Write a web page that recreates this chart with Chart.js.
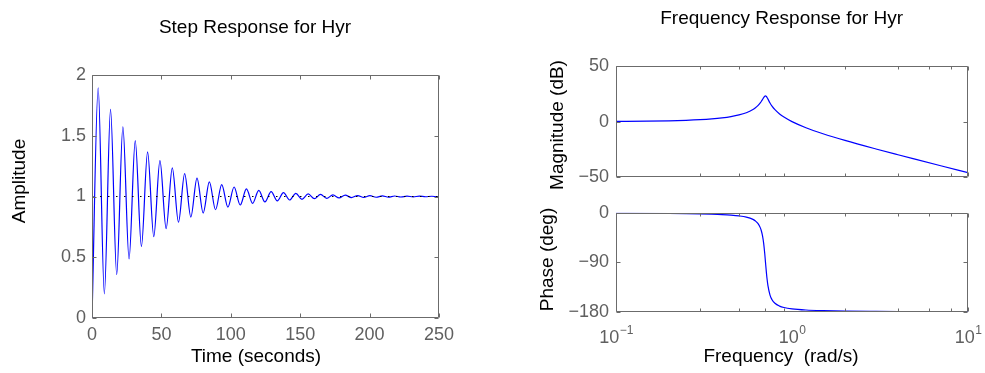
<!DOCTYPE html>
<html>
<head>
<meta charset="utf-8">
<title>Hyr step and frequency response</title>
<script src="https://cdn.jsdelivr.net/npm/chart.js"></script>
<style>
  html, body { margin: 0; padding: 0; background: #fff; }
  body { width: 985px; height: 373px; position: relative; overflow: hidden; }
  canvas { position: absolute; }
  #step { left: 0; top: 0; }
  #mag { left: 510px; top: 0; }
  #phase { left: 510px; top: 195px; }
</style>
</head>
<body>
<canvas id="step" width="510" height="373"></canvas>
<canvas id="mag" width="475" height="195"></canvas>
<canvas id="phase" width="475" height="178"></canvas>
<script>
// step response: start, then every extremum (half period ~4.45 s)
const stepTime = [0, 4.45, 8.9, 13.35, 17.8, 22.25, 26.7, 31.15, 35.6, 40.05, 44.5,
  48.95, 53.4, 57.85, 62.3, 66.75, 71.2, 75.65, 80.1, 84.55, 89,
  93.45, 97.9, 102.35, 106.8, 111.25, 115.7, 120.15, 124.6, 129.05, 133.5,
  137.95, 142.4, 146.85, 151.3, 155.75, 160.2, 164.65, 169.1, 173.55, 178,
  182.45, 186.9, 191.35, 195.8, 200.25, 204.7, 209.15, 213.6, 218.05, 222.5,
  226.95, 231.4, 235.85, 240.3, 244.75, 249.2, 250];
const stepAmp = [0, 1.895, 0.199, 1.717, 0.358, 1.574, 0.486, 1.460, 0.588, 1.368, 0.670,
  1.295, 0.736, 1.236, 0.788, 1.189, 0.831, 1.152, 0.864, 1.121, 0.891,
  1.097, 0.913, 1.078, 0.930, 1.062, 0.944, 1.050, 0.955, 1.040, 0.964,
  1.032, 0.971, 1.026, 0.977, 1.021, 0.982, 1.017, 0.985, 1.013, 0.988,
  1.011, 0.991, 1.008, 0.992, 1.007, 0.994, 1.005, 0.995, 1.004, 0.996,
  1.003, 0.997, 1.003, 0.998, 1.002, 0.998, 1.000];
const steadyState = 1;
const timeTicks = [0, 50, 100, 150, 200, 250];
const ampTicks = [0, 0.5, 1, 1.5, 2];

// bode plot
const freqW = [0.1, 0.15, 0.2, 0.25, 0.3, 0.35, 0.4, 0.45, 0.5, 0.55,
  0.6, 0.62, 0.64, 0.66, 0.67, 0.68, 0.69, 0.70, 0.707, 0.715,
  0.72, 0.73, 0.75, 0.77, 0.8, 0.85, 0.9, 1.0, 1.2, 1.5,
  2, 3, 4, 5, 7, 10];
const magDb = [0.18, 0.40, 0.72, 1.16, 1.72, 2.44, 3.34, 4.49, 5.98, 7.99,
  10.87, 12.42, 14.35, 16.81, 18.28, 19.92, 21.58, 22.84, 23.1, 22.58,
  21.91, 20.2, 16.75, 13.94, 10.72, 6.88, 4.06, -0.04, -5.50, -10.88,
  -16.9, -24.61, -29.83, -33.8, -39.74, -45.98];
const phaseDeg = [-0.58, -0.89, -1.23, -1.62, -2.07, -2.63, -3.33, -4.28, -5.65, -7.84,
  -11.98, -14.9, -19.3, -26.9, -33.0, -41.8, -55.0, -73.9, -90, -107.6,
  -117.3, -132.3, -149.3, -157.7, -164.2, -169.3, -171.8, -174.3, -176.4, -177.6,
  -178.4, -179.0, -179.3, -179.4, -179.6, -179.7];
const freqTicks = [0.1, 0.2, 0.3, 0.4, 0.5, 0.6, 0.7, 0.8, 0.9, 1, 2, 3, 4, 5, 6, 7, 8, 9, 10];
const freqDecades = [0.1, 1, 10];
const decadeExps = ['\u22121', '0', '1'];
const magTicks = [-50, 0, 50];
const phaseTicks = [-180, -90, 0];

const FONT = '"Liberation Sans", Arial, Helvetica, sans-serif';
const AXIS_GREY = '#6b6b6b';
const LABEL_GREY = '#5f5f5f';
const CURVE_BLUE = '#0000ff';

const plain = v => String(v).replace('-', '\u2212');

// MATLAB style box with inward ticks on all four sides
const boxPlugin = {
  id: 'matlabBox',
  afterDatasetsDraw(chart, args, opts) {
    const { ctx, chartArea: a, scales } = chart;
    ctx.save();
    ctx.strokeStyle = AXIS_GREY;
    ctx.lineWidth = 1;
    ctx.beginPath();
    const l = Math.round(a.left) + 0.5, r = Math.round(a.right) - 0.5;
    const t = Math.round(a.top) + 0.5, b = Math.round(a.bottom) - 0.5;
    ctx.rect(l, t, r - l, b - t);
    scales.x.ticks.forEach(tk => {
      const px = Math.round(scales.x.getPixelForValue(tk.value)) + 0.5;
      const major = !opts.logX || Math.abs(Math.log10(tk.value) - Math.round(Math.log10(tk.value))) < 1e-6;
      const len = major ? 4 : 3;
      ctx.moveTo(px, b); ctx.lineTo(px, b - len);
      ctx.moveTo(px, t); ctx.lineTo(px, t + len);
    });
    scales.y.ticks.forEach(tk => {
      const py = Math.round(scales.y.getPixelForValue(tk.value)) + 0.5;
      ctx.moveTo(l, py); ctx.lineTo(l + 4, py);
      ctx.moveTo(r, py); ctx.lineTo(r - 4, py);
    });
    ctx.stroke();
    ctx.restore();
  }
};

// free text: titles, axis labels and 10^n tick labels
const textPlugin = {
  id: 'freeText',
  afterDraw(chart, args, opts) {
    const ctx = chart.ctx;
    ctx.save();
    (opts.items || []).forEach(it => {
      ctx.save();
      ctx.font = (it.size || 19) + 'px ' + FONT;
      ctx.fillStyle = it.color || '#000';
      ctx.textAlign = 'center';
      ctx.textBaseline = it.baseline || 'alphabetic';
      ctx.translate(it.x, it.y);
      if (it.rotate) ctx.rotate(-Math.PI / 2);
      ctx.fillText(it.text, 0, 0);
      ctx.restore();
    });
    if (opts.decades) {
      const xs = chart.scales.x;
      opts.decades.forEach((v, i) => {
        const px = xs.getPixelForValue(v);
        ctx.font = '18px ' + FONT;
        const wb = ctx.measureText('10').width;
        ctx.font = '12px ' + FONT;
        const we = ctx.measureText(opts.exps[i]).width;
        const x0 = px - (wb + we) / 2;
        ctx.fillStyle = LABEL_GREY;
        ctx.textAlign = 'left';
        ctx.textBaseline = 'alphabetic';
        ctx.font = '18px ' + FONT;
        ctx.fillText('10', x0, opts.baseY);
        ctx.font = '12px ' + FONT;
        ctx.fillText(opts.exps[i], x0 + wb + 0.5, opts.baseY - 9);
      });
    }
    ctx.restore();
  }
};

const tickFont = { family: FONT, size: 18 };

function baseOptions() {
  return {
    responsive: false,
    animation: false,
    events: [],
    plugins: { legend: { display: false }, tooltip: { enabled: false }, title: { display: false } },
    elements: { point: { radius: 0 } }
  };
}

function setTicks(values) {
  return scale => { scale.ticks = values.map(v => ({ value: v })); };
}

// left: step response
const stepOpts = baseOptions();
stepOpts.layout = { padding: { top: 75, right: 71, bottom: 0, left: 0 } };
stepOpts.scales = {
  x: {
    type: 'linear', min: 0, max: 250,
    afterBuildTicks: setTicks(timeTicks),
    afterFit: s => { s.height = 55; },
    grid: { display: false, drawTicks: false },
    border: { display: false },
    ticks: { font: tickFont, color: LABEL_GREY, padding: 6, maxRotation: 0, autoSkip: false, callback: v => plain(v) }
  },
  y: {
    min: 0, max: 2,
    afterBuildTicks: setTicks(ampTicks),
    afterFit: s => { s.width = 92; },
    grid: { display: false, drawTicks: false },
    border: { display: false },
    ticks: { font: tickFont, color: LABEL_GREY, padding: 6, autoSkip: false, callback: v => plain(v) }
  }
};
stepOpts.plugins.freeText = {
  items: [
    { text: 'Step Response for Hyr', x: 255, y: 33 },
    { text: 'Amplitude', x: 19.5, y: 181, rotate: true, baseline: 'middle' },
    { text: 'Time (seconds)', x: 256, y: 362 }
  ]
};

new Chart(document.getElementById('step'), {
  type: 'line',
  data: {
    datasets: [
      {
        data: [{ x: timeTicks[0], y: steadyState }, { x: timeTicks[timeTicks.length - 1], y: steadyState }],
        borderColor: '#000', borderWidth: 1.2, borderDash: [1.5, 6.5], order: 0
      },
      {
        data: stepTime.map((t, i) => ({ x: t, y: stepAmp[i] })),
        borderColor: CURVE_BLUE, borderWidth: 1.2, cubicInterpolationMode: 'monotone', order: 1
      }
    ]
  },
  options: stepOpts,
  plugins: [boxPlugin, textPlugin]
});

// right top: magnitude
const magOpts = baseOptions();
magOpts.layout = { padding: { top: 66, right: 17, bottom: 12, left: 0 } };
magOpts.scales = {
  x: {
    type: 'logarithmic', min: 0.1, max: 10, display: false,
    afterBuildTicks: setTicks(freqTicks)
  },
  y: {
    min: -50, max: 50,
    afterBuildTicks: setTicks(magTicks),
    afterFit: s => { s.width = 106; },
    grid: { display: false, drawTicks: false },
    border: { display: false },
    ticks: { font: tickFont, color: LABEL_GREY, padding: 7, autoSkip: false, callback: v => plain(v) }
  }
};
magOpts.plugins.matlabBox = { logX: true };
magOpts.plugins.freeText = {
  items: [
    { text: 'Frequency Response for Hyr', x: 271.7, y: 24 },
    { text: 'Magnitude (dB)', x: 48, y: 125, rotate: true, baseline: 'middle' }
  ]
};

new Chart(document.getElementById('mag'), {
  type: 'line',
  data: {
    datasets: [{
      data: freqW.map((w, i) => ({ x: w, y: magDb[i] })),
      borderColor: CURVE_BLUE, borderWidth: 1.2, cubicInterpolationMode: 'monotone'
    }]
  },
  options: magOpts,
  plugins: [boxPlugin, textPlugin]
});

// right bottom: phase
const phaseOpts = baseOptions();
phaseOpts.layout = { padding: { top: 13, right: 17, bottom: 61, left: 0 } };
phaseOpts.scales = {
  x: {
    type: 'logarithmic', min: 0.1, max: 10, display: false,
    afterBuildTicks: setTicks(freqTicks)
  },
  y: {
    min: -180, max: 0,
    afterBuildTicks: setTicks(phaseTicks),
    afterFit: s => { s.width = 106; },
    grid: { display: false, drawTicks: false },
    border: { display: false },
    ticks: { font: tickFont, color: LABEL_GREY, padding: 7, autoSkip: false, callback: v => plain(v) }
  }
};
phaseOpts.plugins.matlabBox = { logX: true };
phaseOpts.plugins.freeText = {
  items: [
    { text: 'Phase (deg)', x: 38, y: 64.5, rotate: true, baseline: 'middle' },
    { text: 'Frequency  (rad/s)', x: 271, y: 167 }
  ],
  decades: freqDecades,
  exps: decadeExps,
  baseY: 148
};

new Chart(document.getElementById('phase'), {
  type: 'line',
  data: {
    datasets: [{
      data: freqW.map((w, i) => ({ x: w, y: phaseDeg[i] })),
      borderColor: CURVE_BLUE, borderWidth: 1.2, cubicInterpolationMode: 'monotone'
    }]
  },
  options: phaseOpts,
  plugins: [boxPlugin, textPlugin]
});
</script>
</body>
</html>
